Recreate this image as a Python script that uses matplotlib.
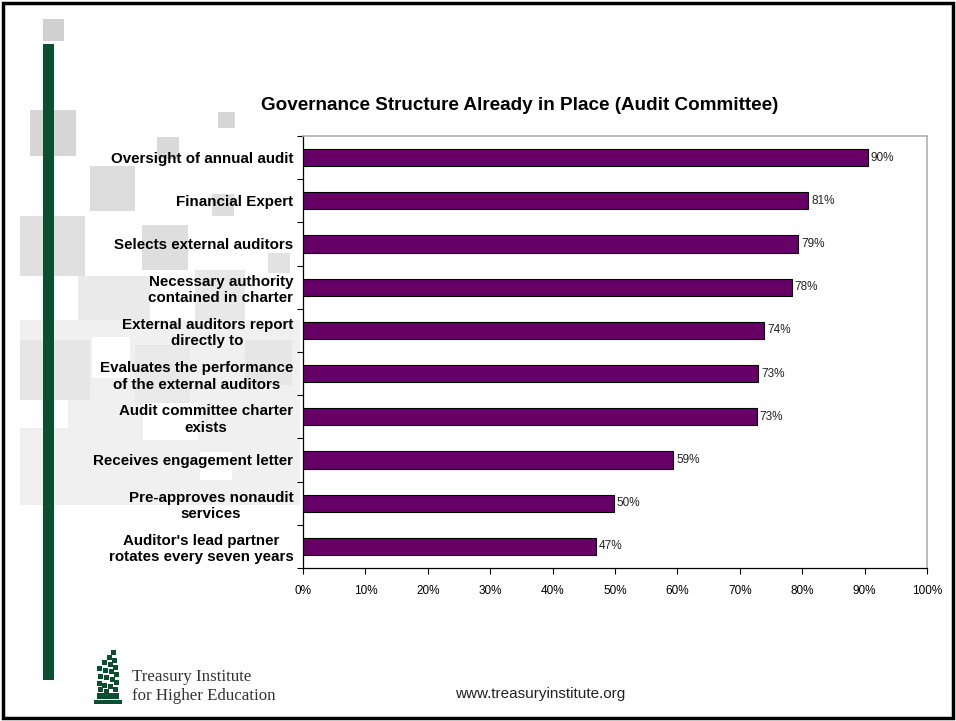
import matplotlib
matplotlib.use("Agg")
import matplotlib.pyplot as plt
from matplotlib.patches import Rectangle
from matplotlib.ticker import FixedLocator, NullFormatter, PercentFormatter

plt.rcParams['font.family'] = ['Liberation Sans', 'DejaVu Sans']

categories = [
    "Oversight of annual audit",
    "Financial Expert",
    "Selects external auditors",
    "Necessary authority\ncontained in charter",
    "External auditors report\ndirectly to",
    "Evaluates the performance\nof the external auditors",
    "Audit committee charter\nexists",
    "Receives engagement letter",
    "Pre-approves nonaudit\nservices",
    "Auditor's lead partner\nrotates every seven years",
]
values = [90.5, 81.0, 79.3, 78.3, 73.9, 72.9, 72.7, 59.3, 49.8, 46.9]
value_labels = ["90%", "81%", "79%", "78%", "74%", "73%", "73%", "59%", "50%", "47%"]
x_ticks = [0, 10, 20, 30, 40, 50, 60, 70, 80, 90, 100]

W, H = 956, 721
fig = plt.figure(figsize=(W / 100, H / 100), dpi=100)
fig.patch.set_facecolor("white")

def px_rect(x0, y0, x1, y1, **kw):
    r = Rectangle((x0 / W, 1 - y1 / H), (x1 - x0) / W, (y1 - y0) / H,
                  transform=fig.transFigure, **kw)
    fig.add_artist(r)
    return r

# decorative background squares
squares = [
    (43, 19, 64, 41, "#d0d0d0"),
    (30, 110, 76, 156, "#d6d6d6"),
    (218, 112, 235, 128, "#d6d6d6"),
    (157, 137, 179, 159, "#d9d9d9"),
    (90, 166, 135, 211, "#dcdcdc"),
    (20, 216, 85, 276, "#e0e0e0"),
    (142, 225, 188, 270, "#dedede"),
    (212, 194, 234, 216, "#dddddd"),
    (268, 253, 290, 273, "#e2e2e2"),
    (78, 276, 150, 340, "#eaeaea"),
    (195, 270, 245, 335, "#e8e8e8"),
    (20, 320, 300, 505, "#f0f0f0"),
    (20, 340, 90, 400, "#e6e6e6"),
    (135, 345, 190, 405, "#e9e9e9"),
    (245, 340, 292, 385, "#e6e6e6"),
]
for x0, y0, x1, y1, c in squares:
    px_rect(x0, y0, x1, y1, facecolor=c, edgecolor="none", zorder=0)
for x0, y0, x1, y1 in [(20, 400, 68, 428), (92, 337, 130, 378), (143, 403, 198, 440), (200, 452, 232, 480), (100, 520, 125, 545)]:
    px_rect(x0, y0, x1, y1, facecolor="white", edgecolor="none", zorder=0.5)

# green vertical bar
px_rect(43, 44, 54, 680, facecolor="#0b4f31", edgecolor="none", zorder=1)

# outer border
px_rect(3, 3, 953, 718, facecolor="none", edgecolor="black", linewidth=2.5, zorder=10)

# main axes
ax = fig.add_axes([303 / W, 1 - 568 / H, (927 - 303) / W, (568 - 136) / H])
ax.set_facecolor("white")
ax.set_zorder(2)
y = list(range(len(categories)))
ax.barh(y, values, height=0.4, color="#660066", edgecolor="black", linewidth=0.8, zorder=3)
ax.set_xlim(0, 100)
ax.set_ylim(len(categories) - 0.5, -0.5)

for yi, v, lab in zip(y, values, value_labels):
    ax.text(v + 0.5, yi, lab, va="center", ha="left", fontsize=8.5, color="#222222")

ax.xaxis.set_major_locator(FixedLocator(x_ticks))
ax.xaxis.set_major_formatter(PercentFormatter(decimals=0))
ax.tick_params(axis="x", labelsize=8.5, length=4, width=0.8, pad=8, colors="black")

ax.set_yticks([i + 0.5 for i in range(-1, len(categories))])
ax.yaxis.set_major_formatter(NullFormatter())
ax.set_yticks(y, minor=True)
ax.set_yticklabels(categories, minor=True, fontsize=10.9, fontweight="bold",
                   multialignment="center", linespacing=1.22)
ax.tick_params(axis="y", which="minor", length=0, pad=7)
ax.tick_params(axis="y", which="major", length=4, width=0.8)

for s in ("top", "right"):
    ax.spines[s].set_color("#b0b0b0")
    ax.spines[s].set_linewidth(1.2)
for s in ("left", "bottom"):
    ax.spines[s].set_color("black")
    ax.spines[s].set_linewidth(0.9)

fig.text(520 / W, 1 - 106 / H, "Governance Structure Already in Place (Audit Committee)",
         ha="center", va="center", fontsize=13.6, fontweight="bold")

fig.text(540 / W, 1 - 694 / H, "www.treasuryinstitute.org", ha="center", va="center",
         fontsize=11, color="#222222")

# logo
logo_green = "#0b4f31"
px_rect(94, 700, 122, 704, facecolor=logo_green, edgecolor="none", zorder=3)
px_rect(97, 693, 119, 699, facecolor=logo_green, edgecolor="none", zorder=3)
cells = [
    (113, 652), (109, 657), (114, 660), (104, 662), (110, 664), (115, 667),
    (99, 668), (105, 670), (111, 671), (116, 674), (100, 676), (106, 677),
    (112, 679), (116, 682), (99, 683), (104, 685), (110, 686), (115, 689),
    (100, 689), (106, 691),
]
for cx, cy in cells:
    px_rect(cx - 2.5, cy - 2.5, cx + 2.5, cy + 2.5, facecolor=logo_green, edgecolor="none", zorder=3)
fig.text(132 / W, 1 - 677 / H, "Treasury Institute", ha="left", va="center",
         fontsize=12.2, family=["Liberation Serif", "DejaVu Serif"], color="#333333")
fig.text(132 / W, 1 - 696 / H, "for Higher Education", ha="left", va="center",
         fontsize=12.2, family=["Liberation Serif", "DejaVu Serif"], color="#333333")

fig.savefig("out.png", dpi=100)
